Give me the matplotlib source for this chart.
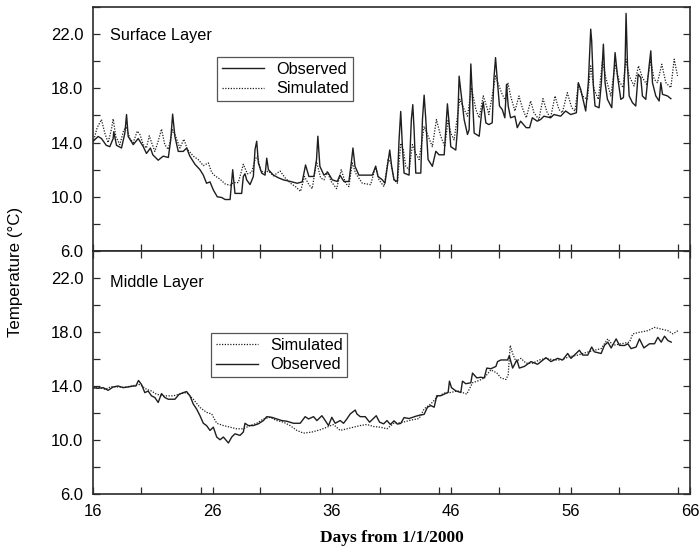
from __future__ import annotations

import matplotlib

matplotlib.use("Agg")
import matplotlib.pyplot as plt
from matplotlib.ticker import MultipleLocator, FixedLocator

# surface layer, observed
surface_obs_day = [
    16.0, 16.42, 16.7, 17.1, 17.4, 17.68, 17.73, 17.96, 18.38, 18.66, 18.8, 18.94,
    19.36, 19.78, 20.2, 20.47, 20.8, 21.0, 21.45, 21.87, 22.3, 22.5, 22.66, 22.85,
    23.13, 23.55, 23.83, 24.1, 24.53, 24.95, 25.23, 25.5, 25.79, 26.07, 26.4, 26.77,
    27.05, 27.47, 27.69, 27.88, 28.44, 28.58, 28.72, 28.86, 29.14, 29.42, 29.56, 29.7,
    29.84, 30.12, 30.4, 30.54, 30.68, 31.1, 31.52, 31.94, 32.53, 33.09, 33.51, 33.79,
    34.07, 34.49, 34.71, 34.82, 34.99, 35.33, 35.66, 36.03, 36.45, 36.67, 37.0, 37.42,
    37.62, 37.76, 37.93, 38.26, 39.38, 39.66, 39.86, 40.22, 40.44, 40.64, 40.84, 41.0,
    41.2, 41.48, 41.62, 41.76, 41.9, 42.04, 42.46, 42.65, 42.77, 42.88, 43.02, 43.44,
    43.58, 43.72, 43.86, 44.05, 44.41, 44.7, 44.97, 45.4, 45.53, 45.67, 45.81, 45.95,
    46.37, 46.51, 46.65, 46.79, 47.07, 47.35, 47.49, 47.63, 47.77, 47.91, 48.33, 48.53,
    48.67, 48.89, 49.14, 49.42, 49.56, 49.7, 49.84, 50.03, 50.26, 50.48, 50.62, 50.76,
    50.96, 51.32, 51.52, 51.8, 52.27, 52.55, 52.78, 53.19, 53.47, 53.75, 54.31, 54.59,
    55.15, 55.57, 55.99, 56.47, 56.63, 56.83, 57.25, 57.47, 57.67, 57.75, 57.89, 58.03,
    58.37, 58.56, 58.73, 58.87, 59.07, 59.43, 59.57, 59.71, 59.91, 60.19, 60.41, 60.55,
    60.63, 60.75, 60.89, 61.16, 61.44, 61.64, 61.86, 62.0, 62.28, 62.56, 62.7, 62.84,
    63.12, 63.4, 63.54, 63.68, 64.1, 64.38,
]
surface_obs_temp = [
    14.1, 14.45, 14.3, 13.8, 13.7, 14.3, 14.8, 13.8, 13.6, 14.7, 16.07, 14.45,
    13.85, 14.3, 13.7, 13.2, 13.6, 13.1, 12.7, 13.0, 12.9, 14.2, 16.1, 14.45,
    13.35, 13.35, 13.6, 13.0, 12.4, 12.0, 11.6, 11.0, 11.1, 10.5, 10.0, 9.95,
    9.8, 9.8, 12.0, 10.25, 10.25, 11.5, 11.7, 11.25, 10.9, 11.5, 13.5, 14.1,
    12.5, 11.75, 11.6, 12.85, 12.0, 11.6, 11.4, 11.25, 11.13, 11.0, 11.1, 12.35,
    11.5, 11.5, 12.75, 14.47, 12.25, 11.6, 11.8, 11.25, 11.13, 11.6, 11.13, 11.13,
    12.5, 13.6, 12.25, 11.6, 11.6, 12.25, 11.5, 11.25, 11.0, 12.25, 13.45, 12.25,
    11.25, 11.13, 14.2, 16.3, 13.7, 11.75, 11.6, 15.7, 16.8, 14.95, 11.75, 11.75,
    15.7, 17.5, 15.7, 12.75, 12.25, 13.36, 13.1, 13.1, 14.95, 16.86, 15.45, 13.7,
    13.45, 14.95, 18.9, 17.8, 15.7, 14.6, 14.95, 19.8, 17.2, 14.7, 14.47, 16.2,
    17.0, 15.45, 15.33, 15.46, 18.67, 20.27, 18.67, 16.7, 16.44, 15.83, 18.3, 16.7,
    15.83, 15.95, 15.1, 15.58, 15.1, 15.1, 15.83, 15.58, 15.7, 15.95, 15.83, 16.07,
    15.95, 16.33, 16.07, 16.2, 18.42, 17.93, 16.33, 18.42, 22.37, 21.5, 18.2, 16.7,
    16.57, 18.42, 21.26, 18.42, 17.19, 16.57, 18.67, 20.64, 18.92, 17.19, 17.32, 19.9,
    23.53, 19.66, 17.44, 16.95, 16.7, 19.04, 18.8, 17.44, 17.19, 19.66, 20.77, 18.42,
    17.44, 17.07, 18.42, 17.56, 17.44, 17.24,
]

# surface layer, simulated
surface_sim_day = [
    16.0, 16.34, 16.7, 16.98, 17.26, 17.54, 17.68, 17.9, 18.24, 18.57, 18.8, 19.08,
    19.36, 19.7, 19.92, 20.2, 20.47, 20.7, 20.9, 21.17, 21.45, 21.73, 22.0, 22.3,
    22.66, 22.85, 23.27, 23.6, 23.9, 24.39, 24.8, 25.23, 25.65, 25.93, 26.2, 26.63,
    27.05, 27.47, 27.74, 28.16, 28.58, 28.92, 29.28, 29.56, 29.76, 30.04, 30.4, 30.68,
    31.1, 31.66, 32.08, 32.53, 32.95, 33.37, 33.7, 34.07, 34.35, 34.71, 35.05, 35.33,
    35.6, 35.94, 36.39, 36.78, 37.14, 37.42, 37.7, 37.98, 38.54, 39.24, 39.66, 39.94,
    40.36, 40.7, 40.92, 41.2, 41.48, 41.76, 41.98, 42.18, 42.46, 42.74, 43.02, 43.3,
    43.72, 44.0, 44.41, 44.75, 45.11, 45.45, 45.73, 45.95, 46.23, 46.71, 47.07, 47.35,
    47.69, 48.05, 48.33, 48.67, 49.03, 49.14, 49.42, 49.7, 49.98, 50.26, 50.54, 50.73,
    50.96, 51.32, 51.66, 51.94, 52.27, 52.64, 52.92, 53.33, 53.67, 54.03, 54.31, 54.68,
    55.01, 55.29, 55.71, 56.08, 56.35, 56.63, 56.97, 57.39, 57.67, 57.95, 58.31, 58.65,
    58.93, 59.35, 59.71, 60.05, 60.38, 60.61, 60.89, 61.3, 61.67, 62.0, 62.34, 62.7,
    62.98, 63.26, 63.62, 63.96, 64.38, 64.66, 64.94,
]
surface_sim_temp = [
    14.0, 15.1, 15.7, 14.7, 14.0, 15.0, 15.75, 14.45, 13.85, 14.95, 15.1, 14.3,
    14.0, 14.85, 14.6, 13.85, 13.6, 14.5, 14.0, 13.35, 14.1, 15.0, 13.85, 13.5,
    14.95, 14.6, 13.6, 14.25, 13.5, 13.0, 12.75, 12.3, 12.5, 11.8, 11.55, 11.3,
    10.95, 10.85, 11.05, 11.05, 12.4, 11.7, 11.8, 12.75, 13.0, 11.9, 11.8, 11.9,
    11.55, 11.9, 11.4, 11.0, 10.75, 10.4, 11.5, 10.9, 10.6, 12.6, 11.4, 11.25,
    11.85, 11.13, 10.6, 12.0, 11.0, 10.75, 12.5, 11.75, 11.0, 10.9, 12.25, 11.25,
    10.75, 12.75, 12.6, 11.25, 11.0, 13.95, 13.45, 12.25, 12.0, 13.85, 13.2, 12.75,
    15.2, 14.6, 13.7, 15.7, 14.47, 13.7, 15.7, 14.7, 14.2, 17.2, 16.45, 15.95,
    18.05, 16.45, 15.83, 17.45, 16.45, 16.07, 17.44, 18.92, 18.2, 17.56, 17.07, 18.42,
    17.44, 16.33, 17.44, 16.57, 15.83, 17.07, 16.2, 15.7, 17.24, 16.2, 15.83, 17.44,
    16.44, 16.2, 17.68, 16.57, 16.33, 18.3, 17.44, 17.19, 19.66, 17.93, 17.19, 20.03,
    18.8, 17.44, 19.78, 18.55, 18.05, 20.15, 18.92, 18.18, 19.66, 18.8, 18.3, 20.03,
    18.67, 18.42, 19.78, 18.42, 18.05, 20.15, 18.92,
]

# middle layer, observed
middle_obs_day = [
    16.0, 16.42, 16.84, 17.26, 17.68, 18.1, 18.52, 18.94, 19.36, 19.58, 19.8, 20.05,
    20.33, 20.61, 20.89, 21.17, 21.45, 21.73, 22.0, 22.3, 22.85, 23.21, 23.55, 23.83,
    24.11, 24.39, 24.67, 24.95, 25.23, 25.5, 25.79, 26.07, 26.35, 26.63, 26.91, 27.33,
    27.61, 27.88, 28.3, 28.58, 28.72, 29.0, 29.42, 29.84, 30.26, 30.54, 30.96, 31.38,
    31.8, 32.22, 32.78, 33.34, 33.76, 34.04, 34.46, 34.74, 35.16, 35.44, 35.71, 35.99,
    36.27, 36.69, 36.97, 37.25, 37.53, 37.95, 38.09, 38.37, 38.79, 39.15, 39.43, 39.71,
    39.99, 40.33, 40.61, 40.89, 41.2, 41.48, 41.76, 42.04, 42.46, 43.02, 43.3, 43.72,
    44.0, 44.28, 44.56, 44.78, 45.11, 45.53, 45.73, 45.84, 46.01, 46.37, 46.79, 46.93,
    47.21, 47.63, 47.77, 48.13, 48.47, 48.75, 48.97, 49.31, 49.73, 49.87, 50.15, 50.71,
    50.85, 51.13, 51.49, 51.69, 52.11, 52.67, 53.22, 53.5, 53.92, 54.34, 54.9, 55.32,
    55.74, 56.02, 56.72, 57.0, 57.42, 57.75, 57.98, 58.54, 58.82, 59.1, 59.38, 59.8,
    60.08, 60.5, 60.78, 61.05, 61.47, 61.75, 62.12, 62.59, 63.01, 63.29, 63.57, 63.85,
    64.13, 64.41,
]
middle_obs_temp = [
    13.88, 13.83, 13.88, 13.68, 13.93, 14.0, 13.88, 13.93, 14.0, 14.0, 14.41, 14.12,
    13.51, 13.63, 13.27, 13.15, 12.78, 13.44, 13.15, 13.02, 13.02, 13.39, 13.51, 13.59,
    13.27, 12.66, 12.29, 11.8, 11.24, 11.07, 10.71, 10.95, 10.22, 10.02, 10.22, 9.78,
    10.22, 10.46, 10.34, 10.59, 11.24, 11.07, 11.07, 11.2, 11.44, 11.73, 11.68, 11.56,
    11.44, 11.39, 11.24, 11.24, 11.73, 11.56, 11.73, 11.44, 11.8, 11.44, 11.07, 11.68,
    11.24, 11.44, 11.24, 11.56, 11.93, 12.22, 11.93, 11.73, 11.73, 11.32, 11.56, 11.8,
    11.32, 11.2, 11.44, 11.15, 11.42, 11.18, 11.23, 11.66, 11.59, 11.76, 11.83, 11.9,
    12.43, 12.55, 12.43, 13.28, 13.28, 13.45, 13.52, 14.36, 13.88, 13.64, 13.52, 14.36,
    14.17, 14.24, 14.96, 14.6, 14.65, 14.6, 15.33, 15.28, 15.45, 15.81, 15.93, 15.93,
    16.24, 15.33, 15.93, 15.33, 15.45, 15.81, 15.61, 15.81, 16.1, 15.81, 16.05, 15.93,
    16.41, 16.05, 16.65, 16.29, 16.29, 16.89, 16.53, 16.41, 17.01, 17.25, 16.82, 17.49,
    17.01, 17.0, 17.13, 16.77, 16.89, 17.49, 16.82, 17.13, 17.13, 17.61, 17.25, 17.69,
    17.37, 17.25,
]

# middle layer, simulated
middle_sim_day = [
    16.0, 16.5, 17.0, 17.5, 18.1, 18.6, 19.2, 19.92, 20.47, 20.89, 21.31, 21.87,
    22.71, 23.41, 23.83, 24.39, 24.95, 25.5, 25.93, 26.35, 26.91, 27.47, 28.02, 28.58,
    29.14, 29.7, 30.26, 30.82, 31.38, 31.94, 32.5, 33.06, 33.62, 34.32, 35.02, 35.58,
    36.13, 36.69, 37.25, 37.81, 38.37, 38.93, 39.49, 40.05, 40.61, 41.17, 41.76, 42.6,
    43.3, 43.72, 44.28, 44.83, 45.53, 45.95, 46.51, 46.93, 47.29, 47.77, 48.33, 48.75,
    49.31, 49.81, 50.15, 50.57, 50.76, 50.93, 51.13, 51.41, 51.83, 52.25, 52.81, 53.36,
    53.92, 54.62, 55.18, 55.88, 56.58, 57.28, 57.98, 58.54, 59.1, 59.52, 60.22, 60.92,
    61.19, 61.75, 62.45, 63.01, 63.57, 64.13, 64.55, 64.97,
]
middle_sim_temp = [
    13.83, 13.9, 13.75, 13.95, 13.93, 13.9, 14.0, 14.12, 13.76, 13.63, 13.39, 13.27,
    13.27, 13.44, 13.51, 13.02, 12.41, 12.05, 11.93, 11.24, 11.07, 10.95, 10.83, 10.83,
    11.07, 11.24, 11.56, 11.68, 11.44, 11.32, 11.07, 10.71, 10.51, 10.59, 10.76, 10.95,
    11.15, 10.71, 10.83, 10.95, 11.07, 11.15, 11.0, 10.95, 10.83, 11.24, 11.28, 11.47,
    11.59, 12.31, 12.67, 13.2, 13.52, 13.52, 13.64, 13.52, 13.4, 14.24, 14.41, 14.6,
    15.2, 14.96, 14.6, 14.48, 14.84, 17.01, 16.41, 15.81, 16.05, 15.69, 15.69, 15.93,
    16.05, 15.93, 15.93, 16.17, 16.29, 16.48, 16.65, 16.77, 17.49, 17.01, 17.13, 17.25,
    17.86, 17.98, 18.1, 18.34, 18.22, 18.1, 17.86, 18.1,
]

LINE_COLOR = "#1e1e1e"
SPINE_COLOR = "#2b2b2b"
SANS = ["Liberation Sans", "DejaVu Sans"]
SERIF = ["Liberation Serif", "DejaVu Serif"]
TEXT_SIZE = 11.7


def style_axis(axis: plt.Axes, top_ticks: bool, bottom_labels: bool) -> None:
    axis.set_xlim(16, 66)
    axis.set_ylim(6, 24)
    axis.xaxis.set_major_locator(FixedLocator([16, 26, 36, 46, 56, 66]))
    axis.xaxis.set_minor_locator(MultipleLocator(5))
    axis.yaxis.set_major_locator(FixedLocator([6, 10, 14, 18, 22]))
    axis.yaxis.set_minor_locator(MultipleLocator(2))
    axis.yaxis.set_major_formatter(plt.FuncFormatter(lambda v, _: f"{v:.1f}"))
    for which in ("major", "minor"):
        axis.tick_params(
            which=which,
            direction="in",
            length=5,
            width=0.9,
            color=SPINE_COLOR,
            left=True,
            right=True,
            top=top_ticks,
            bottom=True,
            labelbottom=bottom_labels,
            labelsize=12,
        )
    axis.tick_params(axis="y", pad=7)
    axis.tick_params(axis="x", pad=7)
    for spine in axis.spines.values():
        spine.set_color(SPINE_COLOR)
        spine.set_linewidth(1.2)


def add_legend(axis: plt.Axes, anchor: tuple[float, float]) -> None:
    legend = axis.legend(loc="upper left", bbox_to_anchor=anchor, fontsize=TEXT_SIZE,
                         frameon=True, fancybox=False, borderpad=0.3, labelspacing=0.28,
                         handlelength=2.6, handletextpad=0.7, borderaxespad=0)
    legend.get_frame().set_edgecolor(SPINE_COLOR)
    legend.get_frame().set_linewidth(0.9)


def main() -> None:
    plt.rcParams["font.family"] = SANS
    figure = plt.figure(figsize=(7.0, 5.55), dpi=100)
    top = figure.add_axes([0.133, 0.5477, 0.853, 0.4396])
    bottom = figure.add_axes([0.133, 0.1099, 0.853, 0.4378])

    top.plot(surface_obs_day, surface_obs_temp, color=LINE_COLOR, linewidth=1.0,
             label="Observed")
    top.plot(surface_sim_day, surface_sim_temp, color=LINE_COLOR, linewidth=0.9,
             linestyle=(0, (1, 1.2)), label="Simulated")
    style_axis(top, top_ticks=False, bottom_labels=False)
    top.text(0.0285, 0.882, "Surface Layer", transform=top.transAxes,
             fontsize=TEXT_SIZE, va="center", ha="left")
    add_legend(top, (0.208, 0.795))

    bottom.plot(middle_sim_day, middle_sim_temp, color=LINE_COLOR, linewidth=0.9,
                linestyle=(0, (1, 1.2)), label="Simulated")
    bottom.plot(middle_obs_day, middle_obs_temp, color=LINE_COLOR, linewidth=1.0,
                label="Observed")
    style_axis(bottom, top_ticks=True, bottom_labels=True)
    bottom.text(0.0285, 0.872, "Middle Layer", transform=bottom.transAxes,
                fontsize=TEXT_SIZE, va="center", ha="left")
    add_legend(bottom, (0.198, 0.663))

    bottom.set_xlabel("Days from 1/1/2000", fontsize=12.5, fontweight="bold",
                      fontfamily=SERIF, labelpad=8)
    figure.text(0.022, 0.51, "Temperature (\u00b0C)", rotation=90, ha="center",
                va="center", fontsize=12.2)

    figure.savefig("out.png", dpi=100)
    plt.close(figure)


if __name__ == "__main__":
    main()
